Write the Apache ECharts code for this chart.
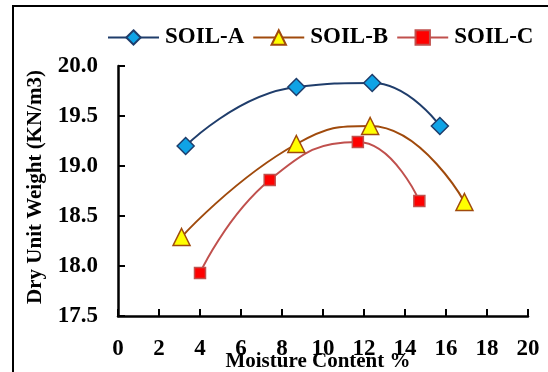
<!DOCTYPE html>
<html>
<head>
<meta charset="utf-8">
<script src="https://cdn.jsdelivr.net/npm/echarts@6/dist/echarts.min.js"></script>
<style>
html,body{margin:0;padding:0;background:#fff;}
#chart{width:548px;height:372px;}
</style>
</head>
<body>
<div id="chart"></div>
<script>
var seriesNames = ['SOIL-A', 'SOIL-B', 'SOIL-C'];
var moistureA = [3.3, 8.7, 12.4, 15.7];
var dryA = [19.20, 19.79, 19.83, 19.40];
var moistureB = [3.1, 8.7, 12.3, 16.9];
var dryB = [18.29, 19.22, 19.40, 18.64];
var moistureC = [4.0, 7.4, 11.7, 14.7];
var dryC = [17.93, 18.86, 19.24, 18.65];
var xTicks = [0, 2, 4, 6, 8, 10, 12, 14, 16, 18, 20];
var yTicks = [17.5, 18.0, 18.5, 19.0, 19.5, 20.0];

function pairs(xs, ys) { return xs.map(function (x, i) { return [x, ys[i]]; }); }

var font = '"Liberation Serif", "Times New Roman", serif';
var chart = echarts.init(document.getElementById('chart'));
chart.setOption({
  animation: false,
  backgroundColor: '#ffffff',
  graphic: [{
    type: 'polyline',
    shape: { points: [[13, 372], [13, 6], [548, 6]] },
    style: { stroke: '#000', lineWidth: 2, fill: null }
  }],
  legend: {
    left: 102, top: 21,
    itemWidth: 51, itemHeight: 18, itemGap: 8,
    textStyle: { fontFamily: font, fontWeight: 'bold', fontSize: 23, color: '#000', padding: [0, 0, 0, 1] },
    data: seriesNames
  },
  grid: { left: 118, right: 20, top: 66, bottom: 56, outerBoundsMode: 'none', containLabel: false },
  xAxis: {
    type: 'value', min: xTicks[0], max: xTicks[xTicks.length - 1], interval: 2,
    name: 'Moisture Content %', nameLocation: 'middle', nameGap: 35, nameMoveOverlap: false,
    nameTextStyle: { fontFamily: font, fontWeight: 'bold', fontSize: 21, color: '#000', padding: [0, 10, 0, 0] },
    axisLine: { show: true, lineStyle: { color: '#000', width: 2.5 } },
    axisTick: { show: true, inside: true, length: 7, lineStyle: { color: '#000', width: 2 } },
    axisLabel: { fontFamily: font, fontWeight: 'bold', fontSize: 23, color: '#000', margin: 22 },
    splitLine: { show: false }
  },
  yAxis: {
    type: 'value', min: yTicks[0], max: yTicks[yTicks.length - 1], interval: 0.5,
    name: 'Dry Unit Weight (KN/m3)', nameLocation: 'middle', nameGap: 72, nameRotate: 90, nameMoveOverlap: false,
    nameTextStyle: { fontFamily: font, fontWeight: 'bold', fontSize: 21, color: '#000', padding: [0, 0, 0, 8] },
    axisLine: { show: true, lineStyle: { color: '#000', width: 2.5 } },
    axisTick: { show: true, inside: true, length: 7, lineStyle: { color: '#000', width: 2 } },
    axisLabel: { fontFamily: font, fontWeight: 'bold', fontSize: 23, color: '#000', margin: 20,
      formatter: function (v) { return v.toFixed(1); } },
    splitLine: { show: false }
  },
  series: [{
    name: seriesNames[0], type: 'line', smooth: 0.5,
    data: pairs(moistureA, dryA),
    symbol: 'diamond', symbolSize: 17,
    lineStyle: { color: '#1F3D6B', width: 2 },
    itemStyle: { color: '#0FA3E6', borderColor: '#1F3D6B', borderWidth: 1.5 }
  }, {
    name: seriesNames[1], type: 'line', smooth: 0.5,
    data: pairs(moistureB, dryB),
    symbol: 'triangle', symbolSize: 17,
    lineStyle: { color: '#A04A0C', width: 2 },
    itemStyle: { color: '#FFFF00', borderColor: '#A04A0C', borderWidth: 1.5 }
  }, {
    name: seriesNames[2], type: 'line', smooth: 0.5,
    data: pairs(moistureC, dryC),
    symbol: 'rect', symbolSize: 11,
    lineStyle: { color: '#C0504D', width: 2 },
    itemStyle: { color: '#FF0000', borderColor: '#C0504D', borderWidth: 1.5 }
  }]
});
</script>
</body>
</html>
